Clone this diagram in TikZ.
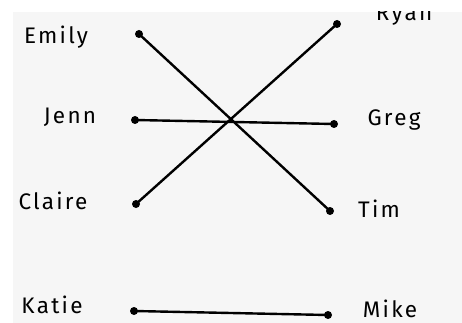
\documentclass[tikz,border=0pt]{standalone}
\usepackage{fontspec}
\setmainfont{Fira Sans}[LetterSpace=10]
\definecolor{paper}{HTML}{F6F6F6}
\tikzset{
  dot/.style={circle, fill, inner sep=0pt, minimum size=8pt},
  who/.style={font=\fontsize{22.5}{24}\selectfont, inner sep=0pt},
  link/.style={line width=2.4pt, line cap=round}
}
\begin{document}
\begin{tikzpicture}[x=1pt, y=-1pt]
    \useasboundingbox (0,0) rectangle (462,323);
    \fill[paper] (13,12) rectangle (462,323);
    \begin{scope}
    \clip (13,12) rectangle (462,323);
    % left column
    \node[dot] (emily) at (139,34) {};
    \node[dot] (jenn) at (135,120) {};
    \node[dot] (claire) at (136,204) {};
    \node[dot] (katie) at (134,311) {};
    % right column
    \node[dot] (ryan) at (337,24) {};
    \node[dot] (greg) at (334,124) {};
    \node[dot] (tim) at (330,211) {};
    \node[dot] (mike) at (328,315) {};
    % names
    \node[who] (emilyl) at (56,37) {Emily};
    \node[who] (jennl) at (70,117) {Jenn};
    \node[who] (clairel) at (53,201) {Claire};
    \node[who] (katiel) at (52,305) {Katie};
    \node[who] (ryanl) at (404,15) {Ryan};
    \node[who] (gregl) at (394,120) {Greg};
    \node[who] (timl) at (379,209) {Tim};
    \node[who] (mikel) at (390,309) {Mike};
    % matches
    \draw[link] (emily.center) -- (tim.center);
    \draw[link] (jenn.center) -- (greg.center);
    \draw[link] (claire.center) -- (ryan.center);
    \draw[link] (katie.center) -- (mike.center);
    \end{scope}
\end{tikzpicture}
\end{document}
